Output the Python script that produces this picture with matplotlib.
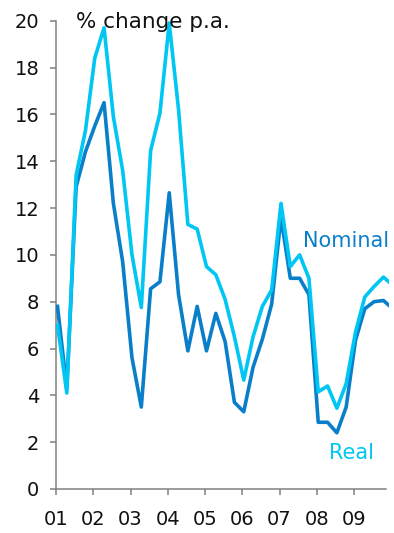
import numpy as np
import matplotlib
matplotlib.use("Agg")
import matplotlib.pyplot as plt

# Quarterly growth, % change p.a., 2001Q1 onwards
quarter_start = 2001.04
nominal = [7.8, 4.3, 12.9, 14.4, 15.5, 16.5, 12.2, 9.7, 5.6, 3.5, 8.55, 8.85,
           12.65, 8.3, 5.9, 7.8, 5.9, 7.5, 6.3, 3.7, 3.3, 5.2, 6.4, 7.9,
           11.6, 9.0, 9.0, 8.3, 2.85, 2.85, 2.4, 3.5, 6.35, 7.7, 8.0, 8.05, 7.7]
real = [7.0, 4.1, 13.4, 15.3, 18.4, 19.7, 15.9, 13.6, 10.0, 7.75, 14.45, 16.05,
        19.9, 16.2, 11.3, 11.1, 9.5, 9.15, 8.1, 6.5, 4.65, 6.5, 7.8, 8.5,
        12.2, 9.5, 10.0, 9.0, 4.15, 4.4, 3.45, 4.5, 6.7, 8.2, 8.65, 9.05, 8.7]
years = list(range(2001, 2010))
year_labels = ["01", "02", "03", "04", "05", "06", "07", "08", "09"]
y_ticks = list(range(0, 21, 2))

c_nominal = "#0A7FC9"
c_real = "#00C6F3"

x = quarter_start + 0.25 * np.arange(len(nominal))

fig = plt.figure(figsize=(3.94, 5.33), dpi=100)
ax = fig.add_axes([56 / 394, 44 / 533, 333 / 394, 468.3 / 533])

ax.plot(x, nominal, color=c_nominal, lw=2.6, zorder=3)
ax.plot(x, real, color=c_real, lw=2.6, zorder=4)

ax.set_xlim(2001, 2001 + 333 / 37.25)
ax.set_ylim(0, 20)
ax.set_xticks(years)
ax.set_xticklabels(year_labels)
ax.set_yticks(y_ticks)

for side in ("top", "right"):
    ax.spines[side].set_visible(False)
for side in ("left", "bottom"):
    ax.spines[side].set_color("#808080")
    ax.spines[side].set_linewidth(1.1)
ax.spines["bottom"].set_bounds(2001, 2001 + 330 / 37.25)

ax.tick_params(axis="both", colors="#808080", width=1.1, length=4,
               labelsize=14, labelcolor="#111111")
ax.tick_params(axis="y", pad=8)
ax.tick_params(axis="x", pad=11)

ax.text(2001.55, 19.67, "% change p.a.", fontsize=15.5, color="#111111",
        ha="left", va="baseline", zorder=6)
ax.text(2007.63, 10.34, "Nominal", fontsize=15, color=c_nominal,
        ha="left", va="baseline", zorder=6, clip_on=False)
ax.text(2008.34, 1.30, "Real", fontsize=15, color=c_real,
        ha="left", va="baseline", zorder=6)

fig.savefig("out.png", dpi=100)
